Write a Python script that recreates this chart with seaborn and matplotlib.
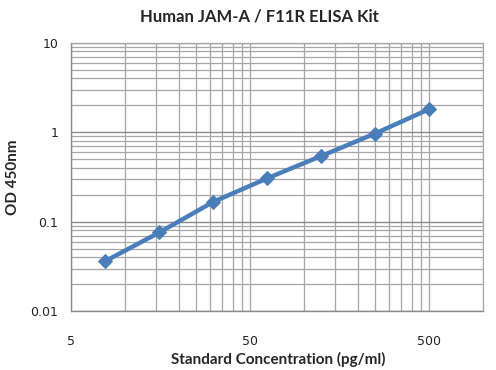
import matplotlib
matplotlib.use("Agg")
import matplotlib.pyplot as plt
import matplotlib.ticker as mticker
import seaborn as sns
import pandas as pd

# Standard curve readings
conc = [7.8125, 15.625, 31.25, 62.5, 125, 250, 500]
od = [0.0364, 0.076, 0.167, 0.306, 0.542, 0.967, 1.81]
x_ticks = [5, 50, 500]
y_ticks = [0.01, 0.1, 1, 10]
y_labels = ["0.01", "0.1", "1", "10"]

data = pd.DataFrame({"conc": conc, "od": od})

sns.set_style("white")
plt.rcParams["font.family"] = ["DejaVu Sans"]

fig = plt.figure(figsize=(4.96, 3.70), dpi=100)
ax = fig.add_axes([70.7 / 496, 1 - 311.3 / 370, (483 - 70.7) / 496, (311.3 - 42.7) / 370])

ax.set_xscale("log")
ax.set_yscale("log")
ax.set_xlim(5, 1000)
ax.set_ylim(0.01, 10)

sns.lineplot(data=data, x="conc", y="od", ax=ax, color="#4a7ebb", linewidth=3.2,
             marker="D", markersize=7, markeredgecolor="#4a7ebb", zorder=5)

# Excel-style log grid: minor lines at multiples of 5 along x
minor_x = [5 * 10 ** d * k for d in range(3) for k in range(1, 10)]
minor_x = [v for v in minor_x if 5 <= v <= 1000]
ax.xaxis.set_major_locator(mticker.FixedLocator(x_ticks))
ax.xaxis.set_major_formatter(mticker.FixedFormatter([str(v) for v in x_ticks]))
ax.xaxis.set_minor_locator(mticker.FixedLocator(minor_x))
ax.xaxis.set_minor_formatter(mticker.NullFormatter())
ax.yaxis.set_major_locator(mticker.FixedLocator(y_ticks))
ax.yaxis.set_major_formatter(mticker.FixedFormatter(y_labels))
ax.yaxis.set_minor_locator(mticker.LogLocator(base=10, subs=range(2, 10), numticks=20))
ax.yaxis.set_minor_formatter(mticker.NullFormatter())

ax.grid(True, which="major", axis="y", color="#8a8a8a", linewidth=1.0)
ax.grid(True, which="major", axis="x", color="#a6a6a6", linewidth=0.9)
ax.grid(True, which="minor", color="#a6a6a6", linewidth=0.9)
ax.set_axisbelow(True)

for s in ["top", "right"]:
    ax.spines[s].set_color("#a6a6a6")
    ax.spines[s].set_linewidth(0.9)
for s in ["left", "bottom"]:
    ax.spines[s].set_color("#8a8a8a")
    ax.spines[s].set_linewidth(1.0)

ax.tick_params(which="major", direction="out", length=5, width=1, color="#8a8a8a",
               labelsize=9, labelcolor="#222222")
ax.tick_params(which="minor", length=0)
ax.tick_params(axis="x", which="major", pad=12)
ax.tick_params(axis="y", which="major", pad=4)

ax.set_xlabel("")
ax.set_ylabel("")
label_font = dict(fontsize=11, fontweight="bold", family=["Lato", "DejaVu Sans"])
fig.text(278 / 496, 1 - 359 / 370, "Standard Concentration (pg/ml)", ha="center",
         va="center", **label_font)
fig.text(13 / 496, 1 - 177 / 370, "OD 450nm", ha="center", va="center",
         rotation=90, **label_font)
fig.text(259 / 496, 1 - 17 / 370, "Human JAM-A / F11R ELISA Kit", ha="center",
         va="center", fontsize=12, fontweight="bold", family=["Lato", "DejaVu Sans"])

fig.savefig("out.png", dpi=100)
